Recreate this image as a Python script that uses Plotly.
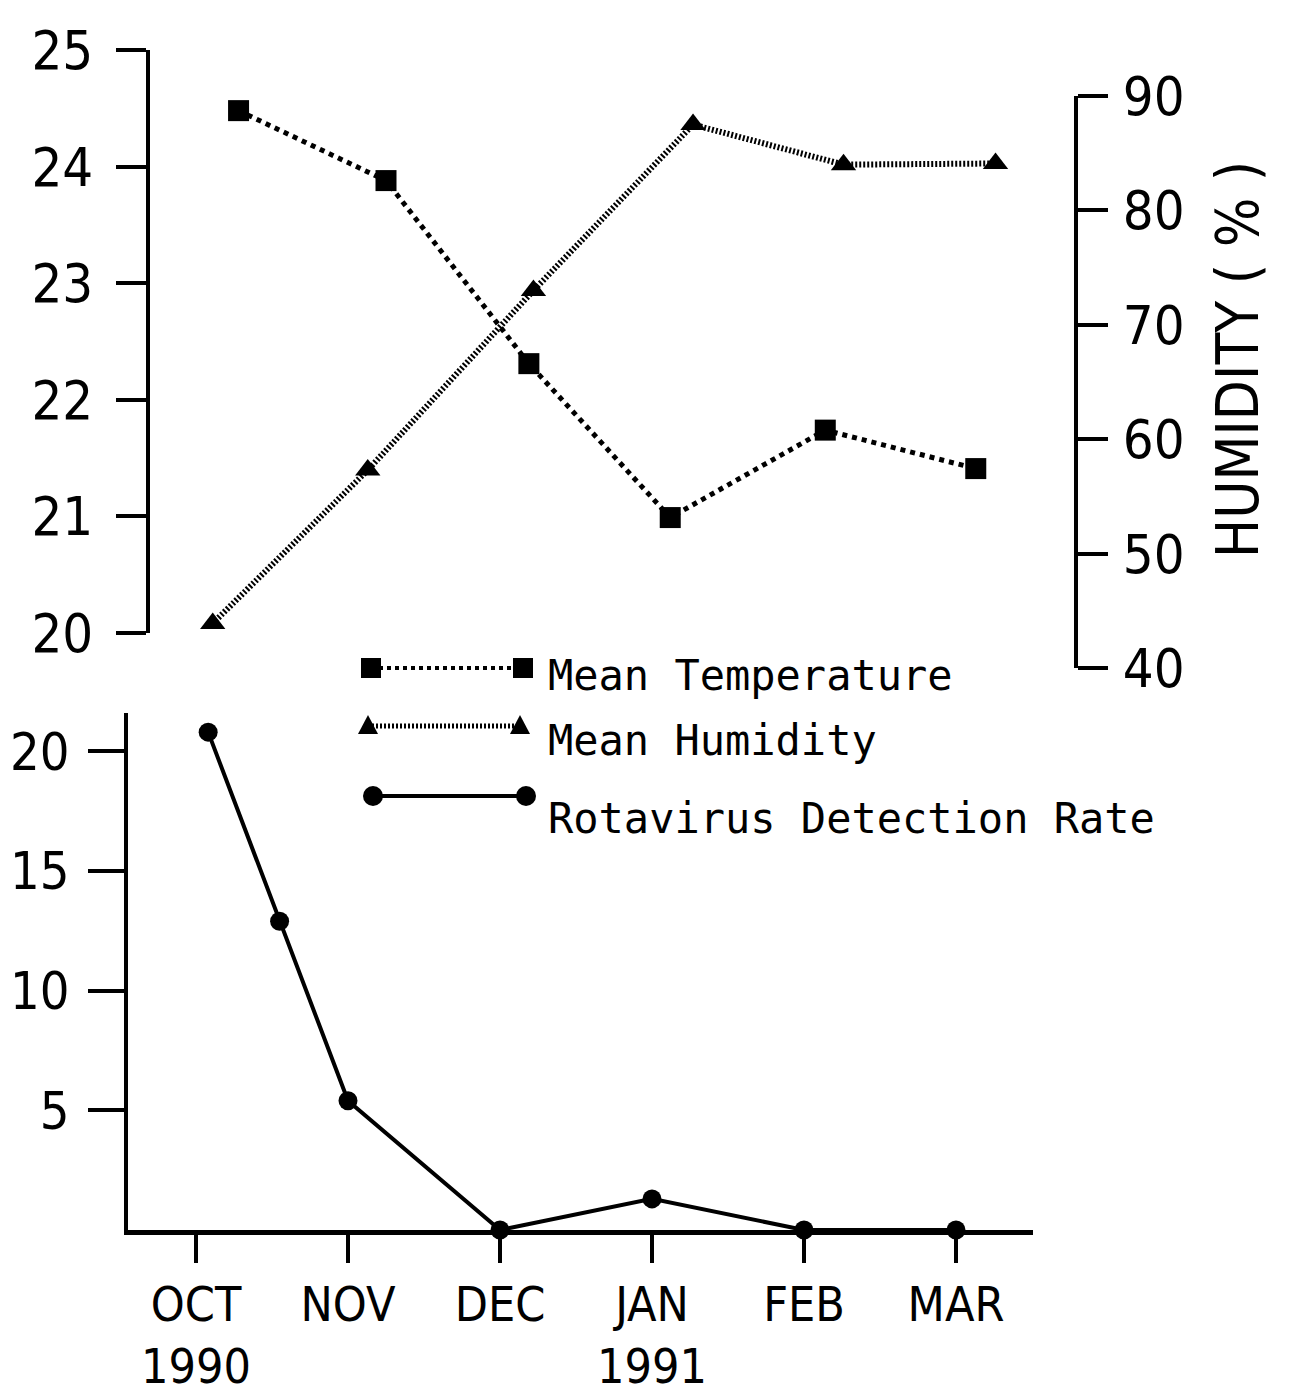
import plotly.graph_objects as go

W, H = 1289, 1398

# ---------------- data ----------------
month_labels = ["OCT<br>1990", "NOV", "DEC", "JAN<br>1991", "FEB", "MAR"]
month_pos = [0, 1, 2, 3, 4, 5]

temp_x = [0.28, 1.25, 2.19, 3.12, 4.14, 5.13]
temp_y = [24.48, 23.88, 22.31, 20.99, 21.74, 21.41]

hum_x = [0.11, 1.13, 2.22, 3.27, 4.26, 5.26]
hum_y = [43.9, 57.3, 73.0, 87.5, 84.0, 84.1]

rota_x = [0.08, 0.55, 1.0, 2.0, 3.0, 4.0, 5.0]
rota_y = [20.8, 12.9, 5.4, 0.0, 1.3, 0.0, 0.0]

temp_ticks = [20, 21, 22, 23, 24, 25]
hum_ticks = [40, 50, 60, 70, 80, 90]
rota_ticks = [5, 10, 15, 20]

# ---------------- helpers ----------------
def fx(p):
    return p / W

def fy(p):
    return 1 - p / H

NARROW = "DejaVu Sans Condensed, Liberation Sans Narrow, sans-serif"
MONO = "DejaVu Sans Mono, Liberation Mono, monospace"
BLACK = "#000000"
PXM = 152.0   # px per month
X0 = 188.0    # px of OCT

fig = go.Figure()

fig.add_trace(go.Scatter(
    x=temp_x, y=temp_y, xaxis="x", yaxis="y", mode="lines+markers",
    line=dict(color=BLACK, width=5, dash="dot"),
    marker=dict(symbol="square", size=21, color=BLACK),
    cliponaxis=False, showlegend=False, name="Mean Temperature"))

fig.add_trace(go.Scatter(
    x=hum_x, y=hum_y, xaxis="x", yaxis="y2", mode="lines+markers",
    line=dict(color=BLACK, width=6, dash="2px,2px"),
    marker=dict(symbol="triangle-up", size=22, color=BLACK),
    cliponaxis=False, showlegend=False, name="Mean Humidity"))

fig.add_trace(go.Scatter(
    x=rota_x, y=rota_y, xaxis="x2", yaxis="y3", mode="lines+markers",
    line=dict(color=BLACK, width=4),
    marker=dict(symbol="circle", size=19, color=BLACK),
    cliponaxis=False, showlegend=False, name="Rotavirus Detection Rate"))

tickfont = dict(family=NARROW, size=54, color=BLACK)

top_l, top_r = 142, 1068
bot_l, bot_r = 120, 1025

fig.update_layout(
    width=W, height=H,
    margin=dict(l=0, r=0, t=0, b=0, autoexpand=False),
    paper_bgcolor="white", plot_bgcolor="rgba(0,0,0,0)",
    showlegend=False,
    xaxis=dict(domain=[fx(top_l), fx(top_r)],
               range=[(top_l - X0) / PXM, (top_r - X0) / PXM],
               visible=False, anchor="y", automargin=False),
    yaxis=dict(domain=[fy(625), fy(42)], range=[20, 25], anchor="x",
               tickvals=temp_ticks, ticks="outside", ticklen=30, tickwidth=4,
               tickcolor=BLACK, showline=True, linewidth=4, linecolor=BLACK,
               showgrid=False, zeroline=False, tickfont=tickfont,
               ticklabelstandoff=12, automargin=False),
    yaxis2=dict(domain=[fy(660), fy(88)], range=[40, 90], anchor="free",
                position=fx(top_r), side="right",
                tickvals=hum_ticks, ticks="outside", ticklen=30, tickwidth=4,
                tickcolor=BLACK, showline=True, linewidth=4, linecolor=BLACK,
                showgrid=False, zeroline=False, tickfont=tickfont,
                ticklabelstandoff=4, automargin=False),
    xaxis2=dict(domain=[fx(bot_l), fx(bot_r)],
                range=[(bot_l - X0) / PXM, (bot_r - X0) / PXM],
                anchor="y3", tickvals=month_pos, ticktext=month_labels,
                ticks="outside", ticklen=28, tickwidth=4, tickcolor=BLACK,
                showline=True, linewidth=5, linecolor=BLACK,
                showgrid=False, zeroline=False,
                tickfont=dict(family=NARROW, size=48, color=BLACK),
                ticklabelstandoff=0, automargin=False),
    yaxis3=dict(domain=[fy(1222), fy(705)], range=[0, 21.6], anchor="x2",
                tickvals=rota_ticks, ticks="outside", ticklen=36, tickwidth=4,
                tickcolor=BLACK, showline=True, linewidth=4, linecolor=BLACK,
                showgrid=False, zeroline=False,
                tickfont=dict(family=NARROW, size=52, color=BLACK),
                ticklabelstandoff=8, automargin=False),
)

# Humidity axis title
fig.add_annotation(text="HUMIDITY ( % )", textangle=-90, x=fx(1230), y=fy(352),
                   xref="paper", yref="paper", showarrow=False,
                   xanchor="center", yanchor="middle",
                   font=dict(family=NARROW, size=58, color=BLACK))

# ---------------- legend (drawn) ----------------
leg_rows = [
    dict(y=660, x1=363, x2=515, sym="square", dash="dot", w=4,
         text="Mean Temperature", ty=667),
    dict(y=718, x1=360, x2=512, sym="triangle", dash="2px,2px", w=5,
         text="Mean Humidity", ty=732),
    dict(y=788, x1=365, x2=518, sym="circle", dash="solid", w=4,
         text="Rotavirus Detection Rate", ty=810),
]
shapes = []
for r in leg_rows:
    shapes.append(dict(type="line", xref="paper", yref="paper",
                       x0=fx(r["x1"]), x1=fx(r["x2"]), y0=fy(r["y"]), y1=fy(r["y"]),
                       line=dict(color=BLACK, width=r["w"], dash=r["dash"])))
    for cx in (r["x1"], r["x2"]):
        s = 10
        if r["sym"] == "square":
            shapes.append(dict(type="rect", xref="paper", yref="paper",
                               x0=fx(cx - s), x1=fx(cx + s), y0=fy(r["y"] + s), y1=fy(r["y"] - s),
                               fillcolor=BLACK, line=dict(width=0)))
        elif r["sym"] == "circle":
            shapes.append(dict(type="circle", xref="paper", yref="paper",
                               x0=fx(cx - s), x1=fx(cx + s), y0=fy(r["y"] + s), y1=fy(r["y"] - s),
                               fillcolor=BLACK, line=dict(width=0)))
        else:
            path = "M {a},{b} L {c},{d} L {e},{f} Z".format(
                a=fx(cx), b=fy(r["y"] - 11), c=fx(cx - 10), d=fy(r["y"] + 8),
                e=fx(cx + 10), f=fy(r["y"] + 8))
            shapes.append(dict(type="path", xref="paper", yref="paper", path=path,
                               fillcolor=BLACK, line=dict(width=0)))
    fig.add_annotation(text=r["text"], x=fx(538), y=fy(r["ty"]), xref="paper", yref="paper",
                       xanchor="left", yanchor="middle", showarrow=False,
                       font=dict(family=MONO, size=42, color=BLACK))
fig.update_layout(shapes=shapes)

fig.write_html("out.html")
